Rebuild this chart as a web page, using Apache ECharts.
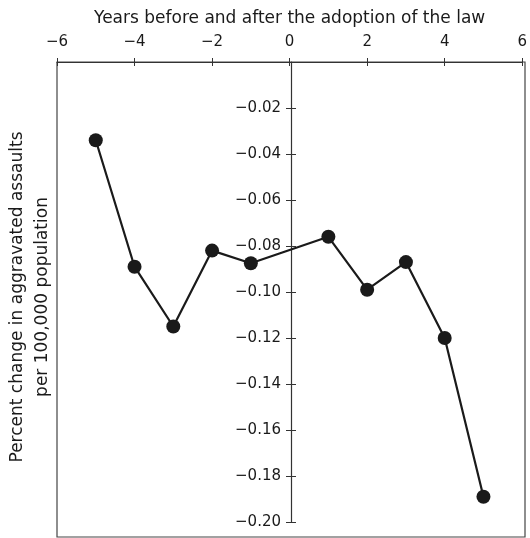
<!DOCTYPE html>
<html>
<head>
    <meta charset="utf-8"/>
    <script src="https://cdn.jsdelivr.net/npm/echarts@6/dist/echarts.min.js"></script>
    <style>
        html, body { margin: 0; padding: 0; background: #fff; }
        #chart { width: 530px; height: 538px; }
    </style>
</head>
<body>
<div id="chart"></div>
<script>
    // 数据：法律实施前后年份 与 袭击率变化
    var years = [-5, -4, -3, -2, -1, 1, 2, 3, 4, 5];
    var changes = [-0.034, -0.089, -0.115, -0.082, -0.0875, -0.076, -0.099, -0.087, -0.120, -0.189];
    var xTicks = [-6, -4, -2, 0, 2, 4, 6];
    var yTicks = [-0.02, -0.04, -0.06, -0.08, -0.10, -0.12, -0.14, -0.16, -0.18, -0.20];

    var points = years.map(function (y, i) { return [y, changes[i]]; });

    function minus(v, d) {
        if (v === 0) return '0';
        return (v < 0 ? '\u2212' : '') + Math.abs(v).toFixed(d);
    }

    var font = 'DejaVu Sans, Liberation Sans, sans-serif';
    var ink = '#1a1a1a';
    // y 轴画在 x=0 处（网格中线）
    var yOffset = -234;

    var myChart = echarts.init(document.getElementById('chart'));
    var option = {
        backgroundColor: '#fff',
        animation: false,
        grid: { left: 57, right: 5, top: 62, bottom: 16 },
        graphic: [
            {
                type: 'rect',
                shape: { x: 57, y: 62, width: 468, height: 475 },
                style: { fill: 'none', stroke: '#444', lineWidth: 1.2 },
                silent: true
            },
            {
                type: 'text',
                x: 30, y: 297,
                rotation: Math.PI / 2,
                style: {
                    text: 'Percent change in aggravated assaults\nper 100,000 population',
                    font: '17px ' + font,
                    fill: ink,
                    align: 'center',
                    verticalAlign: 'middle',
                    lineHeight: 25
                }
            }
        ],
        xAxis: [{
            type: 'value',
            position: 'top',
            min: -6, max: 6, interval: 2,
            name: 'Years before and after the adoption of the law',
            nameLocation: 'middle',
            nameGap: 35,
            nameTextStyle: { fontSize: 17, color: ink, fontFamily: font },
            axisLine: { onZero: false, lineStyle: { color: '#333', width: 1.2 } },
            axisTick: { length: 4, lineStyle: { color: '#333' } },
            axisLabel: { fontSize: 15, color: ink, fontFamily: font, margin: 12,
                customValues: xTicks,
                formatter: function (v) { return minus(v, 0); } },
            splitLine: { show: false }
        }, {
            type: 'value',
            position: 'top',
            min: -6, max: 6, interval: 2,
            axisLine: { show: false, onZero: false },
            axisTick: { inside: true, length: 4, lineStyle: { color: '#333' } },
            axisLabel: { show: false },
            splitLine: { show: false }
        }],
        yAxis: [{
            type: 'value',
            position: 'left',
            offset: yOffset,
            min: -0.2, max: 0, interval: 0.02,
            axisLine: { show: true, onZero: false, lineStyle: { color: '#333', width: 1.2 } },
            axisTick: { show: true, length: 5, lineStyle: { color: '#333' }, customValues: yTicks },
            axisLabel: { fontSize: 15, color: ink, fontFamily: font, margin: 10,
                customValues: yTicks,
                formatter: function (v) { return minus(v, 2); } },
            splitLine: { show: false }
        }, {
            type: 'value',
            position: 'left',
            offset: yOffset,
            min: -0.2, max: 0, interval: 0.02,
            axisLine: { show: false, onZero: false },
            axisTick: { show: true, inside: true, length: 5, lineStyle: { color: '#333' }, customValues: yTicks },
            axisLabel: { show: false },
            splitLine: { show: false }
        }],
        series: [{
            type: 'line',
            data: points,
            symbol: 'circle',
            symbolSize: 14,
            lineStyle: { color: ink, width: 2.2 },
            itemStyle: { color: ink }
        }]
    };
    myChart.setOption(option);
</script>
</body>
</html>
